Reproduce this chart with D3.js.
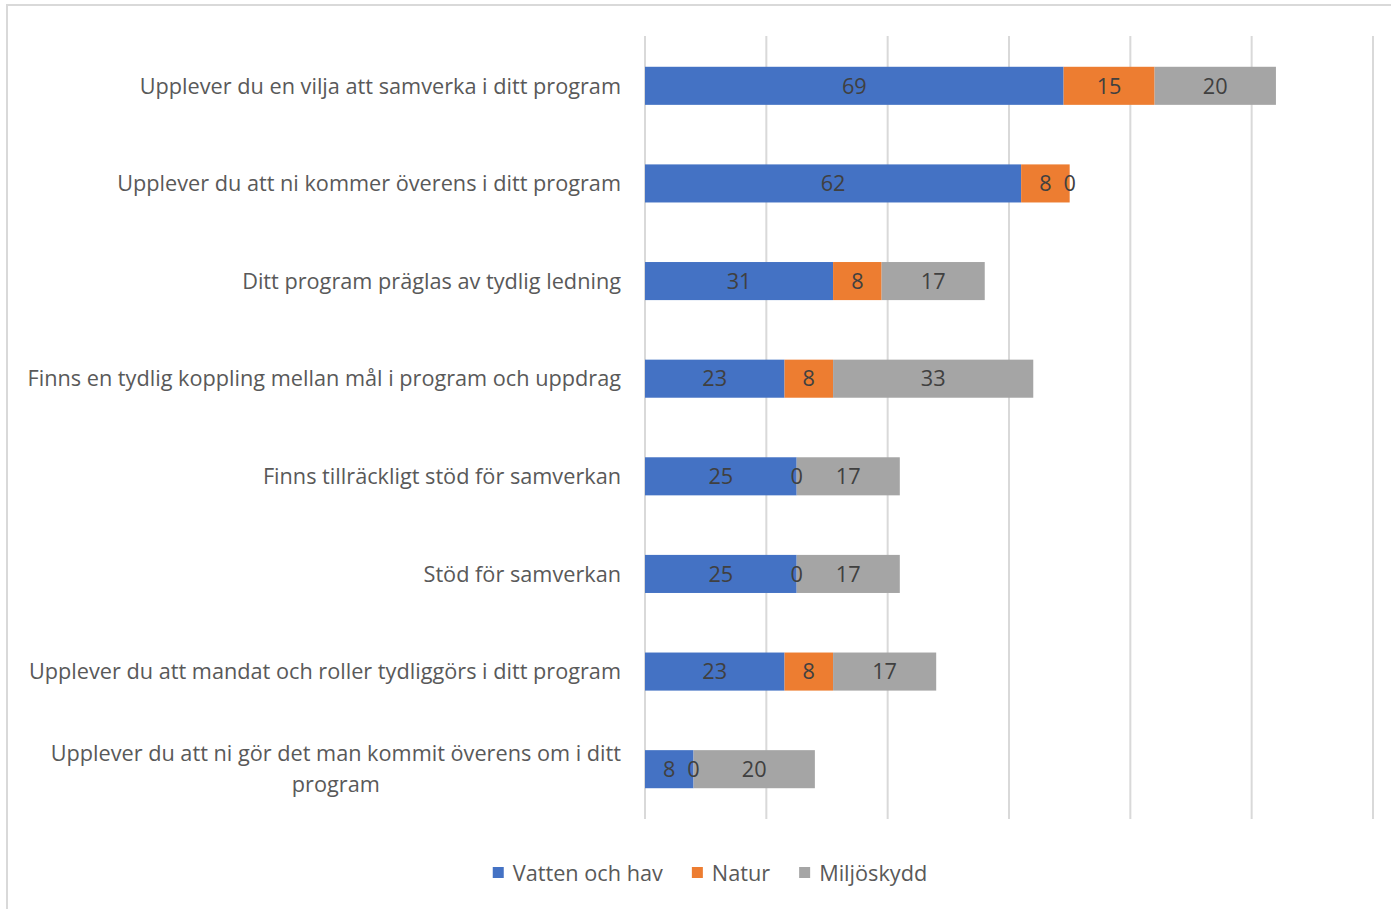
<!DOCTYPE html>
<html>
<head>
<meta charset="utf-8">
<script src="https://cdn.jsdelivr.net/npm/d3@7"></script>
<style>
  body { margin: 0; background: #fff; }
  svg text { font-family: "Open Sans", Lato, sans-serif; }
</style>
</head>
<body>
<svg id="chart"></svg>
<script>
const categories = [
  'Upplever du en vilja att samverka i ditt program',
  'Upplever du att ni kommer överens i ditt program',
  'Ditt program präglas av tydlig ledning',
  'Finns en tydlig koppling mellan mål i program och uppdrag',
  'Finns tillräckligt stöd för samverkan',
  'Stöd för samverkan',
  'Upplever du att mandat och roller tydliggörs i ditt program',
  'Upplever du att ni gör det man kommit överens om i ditt\nprogram',
];
const vattenOchHav = [69, 62, 31, 23, 25, 25, 23, 8];
const natur = [15, 8, 8, 8, 0, 0, 8, 0];
const miljoskydd = [20, 0, 17, 33, 17, 17, 17, 20];
const seriesNames = ['Vatten och hav', 'Natur', 'Miljöskydd'];
const xTicks = [0, 20, 40, 60, 80, 100, 120];

const colors = ['#4472c4', '#ed7d31', '#a5a5a5'];

const width = 1391;
const height = 909;
const margin = { top: 37, right: 20, bottom: 91, left: 645 };
const fontSize = '21.7px';

const svg = d3.select('#chart')
  .attr('width', width)
  .attr('height', height);

// outer frame (only top and left edges visible)
svg.append('path')
  .attr('d', `M7,${height} V5 H${width}`)
  .attr('fill', 'none')
  .attr('stroke', '#d9d9d9')
  .attr('stroke-width', 2);

const x = d3.scaleLinear()
  .domain([0, 120])
  .range([margin.left, 1373]);

const y = d3.scaleBand()
  .domain(categories)
  .range([margin.top, height - margin.bottom])
  .paddingInner(0.61)
  .paddingOuter(0.305);

// gridlines
svg.append('g')
  .selectAll('line')
  .data(xTicks)
  .join('line')
    .attr('x1', d => x(d))
    .attr('x2', d => x(d))
    .attr('y1', 36)
    .attr('y2', 819)
    .attr('stroke', '#d9d9d9')
    .attr('stroke-width', 2);

const rows = categories.map((c, i) => ({
  category: c,
  values: [vattenOchHav[i], natur[i], miljoskydd[i]],
}));

const stack = d3.stack()
  .keys([0, 1, 2])
  .value((d, k) => d.values[k]);
const stacked = stack(rows);

const layers = svg.append('g')
  .selectAll('g')
  .data(stacked)
  .join('g')
    .attr('fill', (d, i) => colors[i]);

layers.selectAll('rect')
  .data(d => d)
  .join('rect')
    .attr('x', d => x(d[0]))
    .attr('y', d => y(d.data.category))
    .attr('width', d => x(d[1]) - x(d[0]))
    .attr('height', y.bandwidth());

// data labels
svg.append('g')
  .selectAll('g')
  .data(stacked)
  .join('g')
  .selectAll('text')
  .data(d => d)
  .join('text')
    .attr('x', d => (x(d[0]) + x(d[1])) / 2)
    .attr('y', d => y(d.data.category) + y.bandwidth() / 2)
    .attr('dy', '0.36em')
    .attr('text-anchor', 'middle')
    .attr('fill', '#404040')
    .style('font-size', fontSize)
    .text(d => d[1] - d[0]);

// category labels
const labelRight = 621;
const labels = svg.append('g')
  .selectAll('text')
  .data(categories)
  .join('text')
    .attr('fill', '#595959')
    .style('font-size', fontSize);

labels.each(function (d) {
  const lines = d.split('\n');
  const t = d3.select(this);
  const cy = y(d) + y.bandwidth() / 2;
  if (lines.length === 1) {
    t.attr('x', labelRight)
      .attr('y', cy)
      .attr('dy', '0.36em')
      .attr('text-anchor', 'end')
      .text(d);
    return;
  }
  const lineHeight = 31;
  t.attr('text-anchor', 'middle');
  const spans = t.selectAll('tspan')
    .data(lines)
    .join('tspan')
      .attr('y', (l, i) => cy + (i - (lines.length - 1) / 2) * lineHeight)
      .attr('dy', '0.36em')
      .text(l => l);
  const maxW = d3.max(spans.nodes(), n => n.getComputedTextLength());
  spans.attr('x', labelRight - maxW / 2);
});

// legend
const legend = svg.append('g')
  .attr('transform', 'translate(0, 873)');
const items = legend.selectAll('g')
  .data(seriesNames)
  .join('g');
items.append('rect')
  .attr('width', 11)
  .attr('height', 11)
  .attr('y', -6)
  .attr('fill', (d, i) => colors[i]);
items.append('text')
  .attr('x', 20)
  .attr('dy', '0.36em')
  .attr('fill', '#595959')
  .style('font-size', fontSize)
  .text(d => d);

let offset = 0;
const gap = 29;
const widths = items.nodes().map(n => 20 + d3.select(n).select('text').node().getComputedTextLength());
const total = d3.sum(widths) + gap * (widths.length - 1);
offset = 710 - total / 2;
items.attr('transform', (d, i) => {
  const tx = offset;
  offset += widths[i] + gap;
  return `translate(${tx}, 0)`;
});
</script>
</body>
</html>
